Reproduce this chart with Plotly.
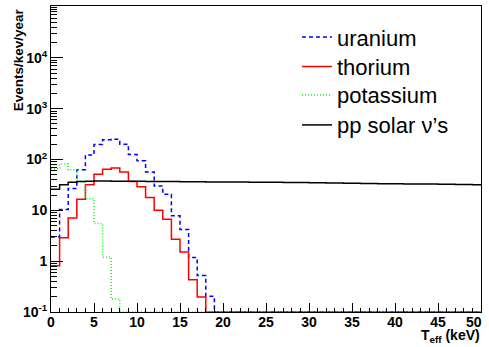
import plotly.graph_objects as go

# bin edges in keV (1 keV bins from 0 to 50)
edges = list(range(0, 51))

uranium = [3.0, 10.4, 27, 63, 122, 197, 245, 250, 200, 125, 94, 57, 30, 20.7, 7.8, 4.2, 1.18, 0.52, 0.204] + [0] * 31
thorium = [0.81, 2.9, 7.1, 16.5, 32, 51, 64, 68, 57, 37, 29, 17.9, 10, 6.7, 2.7, 1.52, 0.43, 0.197] + [0] * 32
potassium = [66, 82, 63, 37, 17, 5.5, 1.2, 0.18] + [0] * 42
pp_solar = [26, 32, 35.5, 37, 37.5,
            37.6, 37.6, 37.5, 37.4, 37.3, 37.2,
            37.1, 37.0, 36.9, 36.8, 36.7, 36.6, 36.5, 36.3, 36.2, 36.1,
            36.0, 35.9, 35.8, 35.7, 35.6, 35.5, 35.4, 35.3, 35.2, 35.0,
            34.8, 34.6, 34.4, 34.2, 34.0, 33.8, 33.6, 33.4, 33.3, 33.2,
            33.1, 33.0, 32.9, 32.8, 32.6, 32.5, 32.4, 32.2, 32.0]

names = ["uranium", "thorium", "potassium", "pp solar \u03bd\u2019s"]
colors = ["#0000ff", "#ff0000", "#00ff00", "#000000"]
dashes = ["4px,3px", "solid", "1px,2px", "solid"]
legend_ids = ["legend", "legend2", "legend3", "legend4"]
legend_tops = [0.9663, 0.8706, 0.7775, 0.6794]

y_ticks = [0.1, 1, 10, 100, 1000, 10000]
y_ticktext = ["10<sup>-1</sup>", "1", "10", "10<sup>2</sup>", "10<sup>3</sup>", "10<sup>4</sup>"]
x_ticks = [0, 5, 10, 15, 20, 25, 30, 35, 40, 45, 50]
x_ticktext = ["0", "5", "10", "15", "20", "25", "30", "35", "40", "45", ""]
last_x_label = "50"  # drawn right-aligned at the last tick, as ROOT does

YMIN = 0.1

fig = go.Figure()
for vals, name, col, dash, lid in zip([uranium, thorium, potassium, pp_solar], names, colors, dashes, legend_ids):
    ys = [max(v, YMIN) for v in vals]
    fig.add_trace(go.Scatter(
        x=edges, y=ys + [ys[-1]], mode="lines", line_shape="hv", name=name,
        line=dict(color=col, width=1.5, dash=dash), legend=lid,
    ))

font_family = "Liberation Sans, Arial, sans-serif"

fig.update_layout(
    width=489, height=347,
    margin=dict(l=51, r=8, t=6, b=35, autoexpand=False),
    paper_bgcolor="white", plot_bgcolor="white",
    font=dict(family=font_family, color="black"),
    showlegend=True,
)
legend_x = (297 - 51) / (489 - 51 - 8)
for lid, top in zip(legend_ids, legend_tops):
    fig.update_layout({lid: dict(x=legend_x, y=top, yanchor="top", xanchor="left",
                                 font=dict(size=22, family=font_family),
                                 bgcolor="rgba(0,0,0,0)", borderwidth=0, itemwidth=30)})

fig.update_xaxes(
    range=[0, 50], showgrid=False, zeroline=False, automargin=False,
    showline=True, linecolor="black", linewidth=1, mirror=True,
    ticks="inside", ticklen=9, tickcolor="black", tickwidth=1,
    tickvals=x_ticks, ticktext=x_ticktext, ticklabelstandoff=-3,
    tickfont=dict(size=14, weight="bold", family=font_family),
    minor=dict(ticks="inside", ticklen=4, dtick=1, tickcolor="black", showgrid=False),
)
fig.update_yaxes(
    type="log", range=[-1, 5.02], showgrid=False, zeroline=False, automargin=False,
    showline=True, linecolor="black", linewidth=1, mirror=True,
    ticks="inside", ticklen=12, tickcolor="black", tickwidth=1,
    tickmode="array", tickvals=y_ticks, ticktext=y_ticktext,
    tickfont=dict(size=14, weight="bold", family=font_family),
    minor=dict(ticks="inside", ticklen=6, dtick="D1", tickcolor="black", showgrid=False),
)

fig.add_annotation(text="<b>" + last_x_label + "</b>", xref="x", yref="paper",
                   x=x_ticks[-1], y=0, xanchor="right", yanchor="middle", xshift=2, yshift=-9.5,
                   borderpad=0, showarrow=False, font=dict(size=14, family=font_family))
fig.add_annotation(text="<b>Events/kev/year</b>", xref="paper", yref="paper",
                   x=-0.075, y=1.0, xanchor="center", yanchor="top", textangle=-90,
                   showarrow=False, font=dict(size=13.5, family=font_family))
fig.add_annotation(text="<b>T<sub>eff</sub> (keV)</b>", xref="paper", yref="paper",
                   x=1.0, y=-0.047, xanchor="right", yanchor="top", xshift=0,
                   borderpad=0, showarrow=False, font=dict(size=14, family=font_family))

fig.write_html("out.html")
